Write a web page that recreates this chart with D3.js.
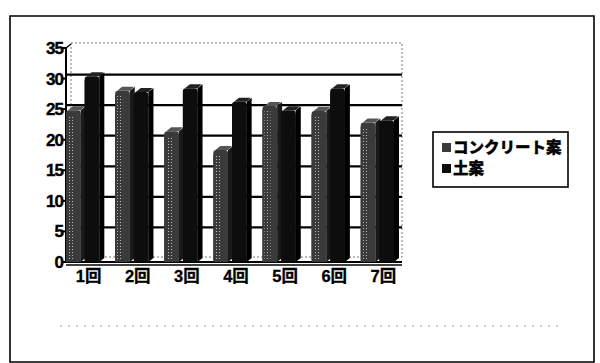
<!DOCTYPE html>
<html><head><meta charset="utf-8">
<script src="https://cdn.jsdelivr.net/npm/d3@7"></script>
<style>body{margin:0;background:#fff}svg{display:block}</style>
</head><body>
<svg id="c" width="600" height="363"></svg>
<script>
const categories = ["1回","2回","3回","4回","5回","6回","7回"];
const seriesNames = ["コンクリート案","土案"];
const concrete = [24.8, 28.0, 21.4, 18.3, 25.5, 24.7, 22.8];
const soil = [30.4, 27.8, 28.4, 26.2, 24.8, 28.4, 23.2];
const yTicks = [0,5,10,15,20,25,30,35];

const svg = d3.select("#c");
const x0 = 66, x1 = 402, yB = 262, yT = 48;
const dx = 5, dy = -4;
const y = d3.scaleLinear().domain([0,35]).range([yB, yT]);
const xb = d3.scaleBand().domain(categories).range([x0, 398]).paddingInner(0.24).paddingOuter(0.0);
const xs = d3.scaleBand().domain(seriesNames).range([0, xb.bandwidth()]).padding(0);
const fonts = "'Liberation Sans', Arial, 'Noto Sans CJK JP', sans-serif";

// outer frame
svg.append("path").attr("d","M10,16 L594,16 L594,362 L10,362 Z").attr("fill","none").attr("stroke","#000").attr("stroke-width",1.6);
// faint scan line
svg.append("line").attr("x1",60).attr("x2",560).attr("y1",326).attr("y2",326).attr("stroke","#999").attr("stroke-width",1).attr("stroke-dasharray","2,6");

// back wall
svg.append("rect").attr("x",x0+dx).attr("y",yT+dy-1).attr("width",x1-x0-dx).attr("height",yB-yT).attr("fill","#fff").attr("stroke","#777").attr("stroke-width",1).attr("stroke-dasharray","2,2");
// gridlines
svg.selectAll("line.grid").data(yTicks.filter(v=>v>0 && v<35)).enter().append("line")
  .attr("x1",x0).attr("x2",x1).attr("y1",d=>y(d)+dy).attr("y2",d=>y(d)+dy)
  .attr("stroke","#000").attr("stroke-width",2.2);
// left axis & floor
svg.append("line").attr("x1",x0).attr("x2",x0).attr("y1",yT).attr("y2",yB).attr("stroke","#000").attr("stroke-width",2);
svg.append("line").attr("x1",x0).attr("x2",x0+dx).attr("y1",yT).attr("y2",yT+dy).attr("stroke","#000").attr("stroke-width",1.5);
svg.append("line").attr("x1",x0).attr("x2",x1).attr("y1",yB).attr("y2",yB).attr("stroke","#000").attr("stroke-width",2);
svg.append("line").attr("x1",x0).attr("x2",x1).attr("y1",yB+3).attr("y2",yB+3).attr("stroke","#000").attr("stroke-width",1.5);

// bars
const colors = {front:["#3a3a3a","#0d0d0d"], side:["#1a1a1a","#000"], top:["#555","#222"]};
const data = [];
categories.forEach((c,i)=>{ data.push({c, s:0, v:concrete[i]}); data.push({c, s:1, v:soil[i]}); });
const g = svg.append("g");
data.forEach(d=>{
  const bx = xb(d.c) + xs(seriesNames[d.s]);
  const w = xs.bandwidth() - dx + 1;
  const top = y(d.v);
  g.append("path").attr("d",`M${bx+w},${top} L${bx+w+dx},${top+dy} L${bx+w+dx},${yB+dy} L${bx+w},${yB} Z`).attr("fill",colors.side[d.s]);
  g.append("rect").attr("x",bx).attr("y",top).attr("width",w).attr("height",yB-top).attr("rx",3).attr("fill",colors.front[d.s]);
  g.append("rect").attr("x",bx).attr("y",top+4).attr("width",w).attr("height",yB-top-4).attr("fill",colors.front[d.s]);
  g.append("path").attr("d",`M${bx+2},${top} L${bx+2+dx},${top+dy} L${bx+w+dx-1},${top+dy} L${bx+w},${top} Z`).attr("fill",colors.top[d.s]);
});
const defs = svg.append("defs");
const pat = defs.append("pattern").attr("id","dots").attr("width",3).attr("height",3).attr("patternUnits","userSpaceOnUse");
pat.append("rect").attr("x",0).attr("y",0).attr("width",1).attr("height",1).attr("fill","#bbb");
data.filter(d=>d.s===0).forEach(d=>{
  const bx = xb(d.c) + xs(seriesNames[d.s]);
  g.append("rect").attr("x",bx+2).attr("y",y(d.v)+5).attr("width",6).attr("height",yB-y(d.v)-6).attr("fill","url(#dots)");
});

// y axis labels and ticks
svg.selectAll("line.tick").data(yTicks).enter().append("line")
  .attr("x1",x0-4).attr("x2",x0).attr("y1",d=>y(d)).attr("y2",d=>y(d)).attr("stroke","#000").attr("stroke-width",2);
svg.selectAll("text.yl").data(yTicks).enter().append("text")
  .attr("x",x0-3).attr("y",d=>y(d)+6).attr("text-anchor","end")
  .attr("font-family",fonts).attr("font-weight","bold").attr("font-size",17).attr("letter-spacing",-1)
  .attr("stroke","#000").attr("stroke-width",0.4)
  .text(d=>d);
// category labels
svg.selectAll("text.xl").data(categories).enter().append("text")
  .attr("x",d=>xb(d)+xb.bandwidth()/2+4).attr("y",282).attr("text-anchor","middle")
  .attr("font-family",fonts).attr("font-weight","bold").attr("font-size",16.5)
  .attr("stroke","#000").attr("stroke-width",0.3)
  .text(d=>d);

// legend
svg.append("rect").attr("x",433).attr("y",132).attr("width",135).attr("height",55).attr("fill","#fff").attr("stroke","#000").attr("stroke-width",1.6);
seriesNames.forEach((n,i)=>{
  const ly = 151 + i*21;
  svg.append("rect").attr("x",442).attr("y",ly-8).attr("width",9).attr("height",9).attr("fill",colors.front[i]);
  svg.append("text").attr("x",453).attr("y",ly+2).attr("font-family","'Noto Sans CJK JP', sans-serif").attr("font-weight","900").attr("font-size",15.5)
    .attr("stroke","#000").attr("stroke-width",0.3).text(n);
});
</script>
</body></html>
